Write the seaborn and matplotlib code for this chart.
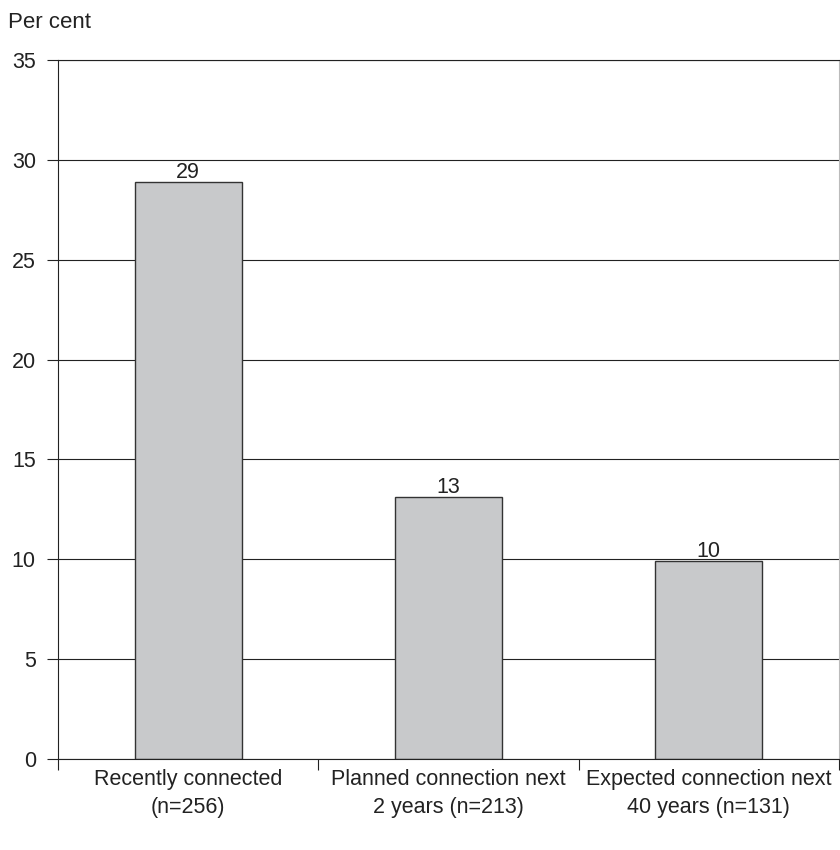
import matplotlib
matplotlib.use("Agg")
import matplotlib.pyplot as plt
import seaborn as sns
import pandas as pd
from matplotlib import font_manager

categories = ["Recently connected\n(n=256)",
              "Planned connection next\n2 years (n=213)",
              "Expected connection next\n40 years (n=131)"]
values = [28.9, 13.1, 9.9]
labels = ["29", "13", "10"]
yticks = [0, 5, 10, 15, 20, 25, 30, 35]

sns.set_theme(style="white")
names = {f.name for f in font_manager.fontManager.ttflist}
fam = "Liberation Sans Narrow" if "Liberation Sans Narrow" in names else "Liberation Sans"
plt.rcParams['font.family'] = [fam, 'DejaVu Sans']
FS = 15.5

df = pd.DataFrame({"cat": categories, "val": values})

fig = plt.figure(figsize=(8.4, 8.5), dpi=100)
ax = fig.add_axes([58/840, 91/850, 781/840, 699/850])
sns.barplot(data=df, x="cat", y="val", color="#c8c9cb", edgecolor="#333333",
            linewidth=1, width=0.41, saturation=1, ax=ax)

ax.set_ylim(0, 35)
ax.set_xlim(-0.5, 2.5)
ax.set_yticks(yticks)
ax.set_yticklabels([str(t) for t in yticks], fontsize=FS, color="#222222")
ax.yaxis.grid(True, color="#222222", linewidth=0.8)
ax.set_axisbelow(True)
ax.tick_params(axis='y', length=8, width=0.8, color="#222222", pad=8, left=True)
ax.set_xticks(range(len(categories)))
ax.set_xticklabels(categories, fontsize=FS, color="#222222", linespacing=1.45)
ax.tick_params(axis='x', which='major', length=0, pad=7)
ax.set_xticks([-0.5, 0.5, 1.5, 2.5], minor=True)
ax.tick_params(axis='x', which='minor', length=8, width=0.8, color="#222222", bottom=True)
ax.set_xlabel("")
ax.set_ylabel("")
for s in ["left", "bottom", "right", "top"]:
    ax.spines[s].set_visible(True)
    ax.spines[s].set_color("#222222")
    ax.spines[s].set_linewidth(0.8)
ax.spines["right"].set_color("#bbbbbb")

for i, (v, l) in enumerate(zip(values, labels)):
    ax.text(i, v - 0.05, l, ha="center", va="bottom", fontsize=FS, color="#222222")

fig.text(8/840, 1 - 22/850, "Per cent", ha="left", va="center", fontsize=16, color="#222222")

fig.savefig("out.png", dpi=100)
